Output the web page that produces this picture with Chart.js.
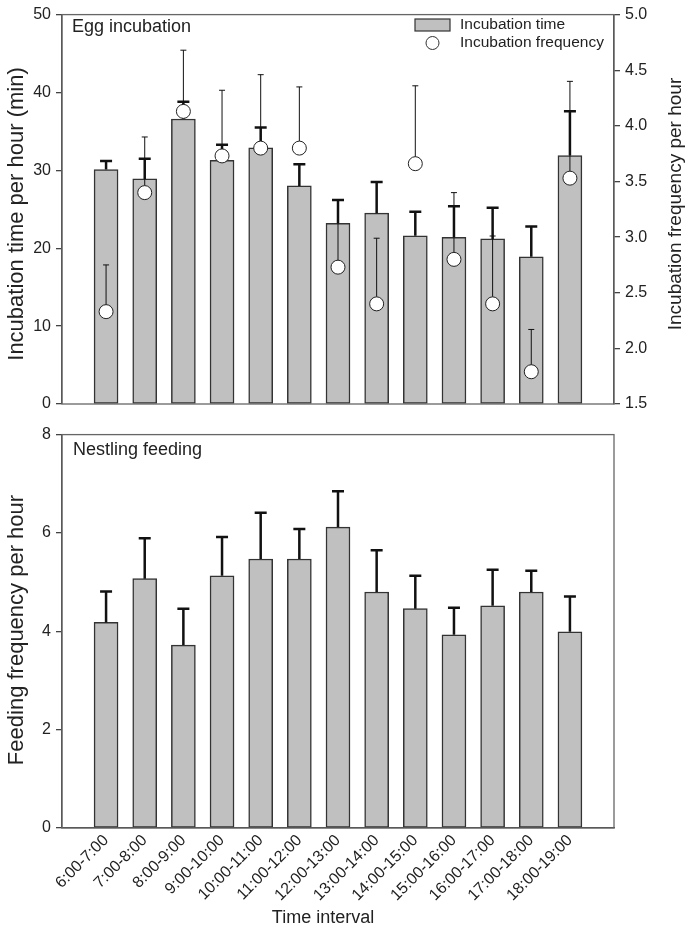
<!DOCTYPE html>
<html>
<head>
<meta charset="utf-8">
<script src="https://cdn.jsdelivr.net/npm/chart.js@4/dist/chart.umd.min.js"></script>
<style>
  html, body { margin: 0; padding: 0; background: #fff; }
  #wrap { position: relative; width: 685px; height: 936px; }
  #top { position: absolute; left: 0; top: 0; }
  #bottom { position: absolute; left: 0; top: 420px; }
</style>
</head>
<body>
<div id="wrap">
  <canvas id="top" width="685" height="420"></canvas>
  <canvas id="bottom" width="685" height="516"></canvas>
</div>
<script>
// time intervals
const intervals = ['6:00-7:00','7:00-8:00','8:00-9:00','9:00-10:00','10:00-11:00','11:00-12:00',
  '12:00-13:00','13:00-14:00','14:00-15:00','15:00-16:00','16:00-17:00','17:00-18:00','18:00-19:00'];

// egg incubation: time per hour (min) and SE
const incTime = [30.1, 28.9, 36.6, 31.3, 32.9, 28.0, 23.2, 24.5, 21.6, 21.4, 21.2, 18.9, 31.9];
const incTimeSE = [1.1, 2.6, 2.2, 2.0, 2.6, 2.8, 3.0, 4.0, 3.1, 4.0, 4.0, 3.9, 5.7];

// egg incubation: frequency per hour and SE
const incFreq = [2.33, 3.40, 4.13, 3.73, 3.80, 3.80, 2.73, 2.40, 3.66, 2.80, 2.40, 1.79, 3.53];
const incFreqSE = [0.42, 0.50, 0.55, 0.59, 0.66, 0.55, 0.60, 0.59, 0.70, 0.60, 0.61, 0.38, 0.87];

// nestling feeding frequency per hour and SE
const feedFreq = [4.18, 5.07, 3.72, 5.13, 5.47, 5.47, 6.12, 4.80, 4.46, 3.93, 4.52, 4.80, 3.99];
const feedFreqSE = [0.63, 0.82, 0.74, 0.79, 0.94, 0.61, 0.73, 0.85, 0.67, 0.55, 0.73, 0.43, 0.72];

const leftTicks = [0, 10, 20, 30, 40, 50];
const rightTicks = [1.5, 2.0, 2.5, 3.0, 3.5, 4.0, 4.5, 5.0];
const feedTicks = [0, 2, 4, 6, 8];

const FONT = "'Liberation Sans', Arial, sans-serif";
const INK = '#222';
const AXIS = '#444';
Chart.defaults.font.family = FONT;
Chart.defaults.color = INK;
Chart.defaults.animation = false;

const pts = (arr) => arr.map((v, i) => ({x: i, y: v}));
const xMin = -1.14, xMax = intervals.length - 1 + 1.14;

function drawUpErr(ctx, xs, ys, vals, errs, yScale, width, half) {
  ctx.save();
  ctx.strokeStyle = '#111';
  ctx.lineWidth = width;
  vals.forEach((v, i) => {
    const x = xs.getPixelForValue(i);
    const y0 = yScale.getPixelForValue(v);
    const y1 = yScale.getPixelForValue(v + errs[i]);
    ctx.beginPath();
    ctx.moveTo(x, y0); ctx.lineTo(x, y1);
    ctx.moveTo(x - half, y1); ctx.lineTo(x + half, y1);
    ctx.stroke();
  });
  ctx.restore();
}

function vText(ctx, text, x, y, size) {
  ctx.save();
  ctx.translate(x, y);
  ctx.rotate(-Math.PI / 2);
  ctx.font = size + 'px ' + FONT;
  ctx.fillStyle = INK;
  ctx.textAlign = 'center';
  ctx.textBaseline = 'middle';
  ctx.fillText(text, 0, 0);
  ctx.restore();
}

const topPlugin = {
  id: 'topDecor',
  afterDatasetDraw(chart, args) {
    const s = chart.scales;
    if (args.index === 0) {
      drawUpErr(chart.ctx, s.x, s.y, incTime, incTimeSE, s.y, 2.5, 6);
      drawUpErr(chart.ctx, s.x, s.y2, incFreq, incFreqSE, s.y2, 1, 3);
    }
  },
  afterDraw(chart) {
    const ctx = chart.ctx, a = chart.chartArea;
    ctx.save();
    ctx.strokeStyle = '#666';
    ctx.lineWidth = 1.3;
    ctx.strokeRect(a.left, a.top, a.right - a.left, a.bottom - a.top);
    // panel label
    ctx.fillStyle = INK;
    ctx.font = '18px ' + FONT;
    ctx.textBaseline = 'alphabetic';
    ctx.fillText('Egg incubation', 72, 32);
    // legend
    ctx.fillStyle = '#c0c0c0';
    ctx.fillRect(415, 19, 35, 12);
    ctx.strokeStyle = '#333';
    ctx.lineWidth = 1.2;
    ctx.strokeRect(415, 19, 35, 12);
    ctx.beginPath();
    ctx.arc(432.5, 43, 6.5, 0, Math.PI * 2);
    ctx.fillStyle = '#fff';
    ctx.fill();
    ctx.lineWidth = 1;
    ctx.stroke();
    ctx.fillStyle = INK;
    ctx.font = '15.5px ' + FONT;
    ctx.textBaseline = 'middle';
    ctx.fillText('Incubation time', 460, 25);
    ctx.fillText('Incubation frequency', 460, 43);
    ctx.restore();
    vText(ctx, 'Incubation time per hour (min)', 17, 214, 22);
    vText(ctx, 'Incubation frequency per hour', 676, 204, 19);
  }
};

const bottomPlugin = {
  id: 'bottomDecor',
  afterDatasetDraw(chart, args) {
    const s = chart.scales;
    if (args.index === 0) drawUpErr(chart.ctx, s.x, s.y, feedFreq, feedFreqSE, s.y, 2.5, 6);
  },
  afterDraw(chart) {
    const ctx = chart.ctx, a = chart.chartArea;
    ctx.save();
    ctx.strokeStyle = '#666';
    ctx.lineWidth = 1.3;
    ctx.strokeRect(a.left, a.top, a.right - a.left, a.bottom - a.top);
    ctx.fillStyle = INK;
    ctx.font = '18px ' + FONT;
    ctx.textBaseline = 'alphabetic';
    ctx.fillText('Nestling feeding', 73, 35);
    ctx.textAlign = 'center';
    ctx.textBaseline = 'middle';
    ctx.fillText('Time interval', 323, 498);
    ctx.restore();
    vText(ctx, 'Feeding frequency per hour', 17, 210, 22);
  }
};

const yTickGrid = {display: true, drawOnChartArea: false, drawTicks: true, tickLength: 6, color: AXIS, lineWidth: 1.3};
const yBorder = {display: true, color: AXIS, width: 1.3};
const tickFont = {size: 16, family: FONT};

const barStyle = {
  backgroundColor: '#c0c0c0',
  borderColor: '#333',
  borderWidth: 1.5,
  borderSkipped: false,
  barThickness: 24
};

new Chart(document.getElementById('top'), {
  type: 'bar',
  data: {
    datasets: [
      Object.assign({label: 'Incubation time', data: pts(incTime), yAxisID: 'y', order: 2}, barStyle),
      {
        type: 'line', label: 'Incubation frequency', data: pts(incFreq), yAxisID: 'y2', order: 1,
        showLine: false, pointRadius: 7, pointBorderWidth: 1, pointBackgroundColor: '#fff', pointBorderColor: '#222'
      }
    ]
  },
  options: {
    responsive: false,
    layout: {padding: {top: 7, bottom: 16, left: 0, right: 0}},
    plugins: {legend: {display: false}, tooltip: {enabled: false}},
    scales: {
      x: {type: 'linear', min: xMin, max: xMax, offset: false, display: false},
      y: {
        position: 'left', min: 0, max: 50,
        afterBuildTicks: (sc) => { sc.ticks = leftTicks.map(v => ({value: v})); },
        afterFit: (sc) => { sc.width = 62; },
        ticks: {font: tickFont, padding: 5, color: INK},
        grid: yTickGrid, border: yBorder
      },
      y2: {
        position: 'right', min: 1.5, max: 5,
        afterBuildTicks: (sc) => { sc.ticks = rightTicks.map(v => ({value: v})); },
        afterFit: (sc) => { sc.width = 71; },
        ticks: {font: tickFont, padding: 5, color: INK, callback: (v) => Number(v).toFixed(1)},
        grid: yTickGrid, border: yBorder
      }
    }
  },
  plugins: [topPlugin]
});

new Chart(document.getElementById('bottom'), {
  type: 'bar',
  data: {
    datasets: [
      Object.assign({label: 'Feeding frequency', data: pts(feedFreq), yAxisID: 'y'}, barStyle)
    ]
  },
  options: {
    responsive: false,
    layout: {padding: {top: 10, bottom: 0, left: 0, right: 71}},
    plugins: {legend: {display: false}, tooltip: {enabled: false}},
    scales: {
      x: {
        type: 'linear', min: xMin, max: xMax, offset: false,
        afterBuildTicks: (sc) => { sc.ticks = intervals.map((c, i) => ({value: i})); },
        afterFit: (sc) => { sc.height = 108; },
        ticks: {
          autoSkip: false, minRotation: 45, maxRotation: 45, padding: 3,
          font: {size: 16, family: FONT}, color: INK,
          callback: (v) => intervals[v]
        },
        grid: {display: false, drawTicks: false},
        border: {display: true, color: AXIS, width: 1.3}
      },
      y: {
        position: 'left', min: 0, max: 8,
        afterBuildTicks: (sc) => { sc.ticks = feedTicks.map(v => ({value: v})); },
        afterFit: (sc) => { sc.width = 62; },
        ticks: {font: tickFont, padding: 5, color: INK},
        grid: yTickGrid, border: yBorder
      }
    }
  },
  plugins: [bottomPlugin]
});
</script>
</body>
</html>
